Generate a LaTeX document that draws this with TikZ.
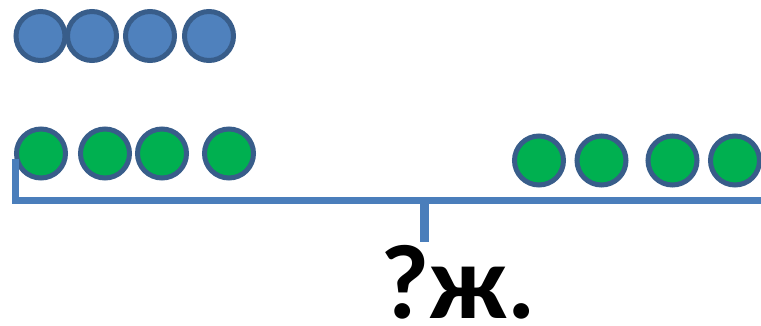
\documentclass[tikz,border=0pt]{standalone}
\usepackage{fontspec}
\setmainfont{Carlito}
\usepackage{tikz}
\usetikzlibrary{positioning}

\definecolor{ballblue}{HTML}{4F81BD}
\definecolor{ballgreen}{HTML}{00B050}
\definecolor{rimblue}{HTML}{385D8A}
\definecolor{barblue}{HTML}{4A7EBB}

\begin{document}
\begin{tikzpicture}[x=1pt,y=-1pt,
                    ball/.style={circle,draw=rimblue,line width=5pt,
                                 minimum size=49pt,inner sep=0pt}]
  \tikzstyle{blueball}=[ball,fill=ballblue]
  \tikzstyle{greenball}=[ball,fill=ballgreen]
  \useasboundingbox (0,0) rectangle (761,325);

  % top row
  \node[blueball] (B1) at (40.5,36) {};
  \node[blueball] (B2) at (92,36) {};
  \node[blueball] (B3) at (150,36) {};
  \node[blueball] (B4) at (209,36) {};

  % second row, left group
  \node[greenball] (G1) at (41,153.5) {};
  \node[greenball] (G2) at (105,153.5) {};
  \node[greenball] (G3) at (162,153.5) {};
  \node[greenball] (G4) at (229,153.5) {};

  % second row, right group
  \node[greenball] (R1) at (539,160.5) {};
  \node[greenball] (R2) at (601.5,160.5) {};
  \node[greenball] (R3) at (672.5,160.5) {};
  \node[greenball] (R4) at (735,160.5) {};

  % brace
  \coordinate (top) at (15.5,159);
  \coordinate (corner) at (15.5,200.5);
  \coordinate (end) at (761,200.5);
  \coordinate (mid) at (424.7,200.5);
  \coordinate (tip) at (424.7,241.7);
  \draw[barblue,line width=7.5pt] (top) -- (corner) -- (end);
  \draw[barblue,line width=9pt] (mid) -- (tip);

  \node[anchor=base,inner sep=0pt,text depth=0pt,
        font=\fontsize{106}{106}\selectfont\bfseries]
    (Q) at (458.5,318) {?ж.};
\end{tikzpicture}
\end{document}
